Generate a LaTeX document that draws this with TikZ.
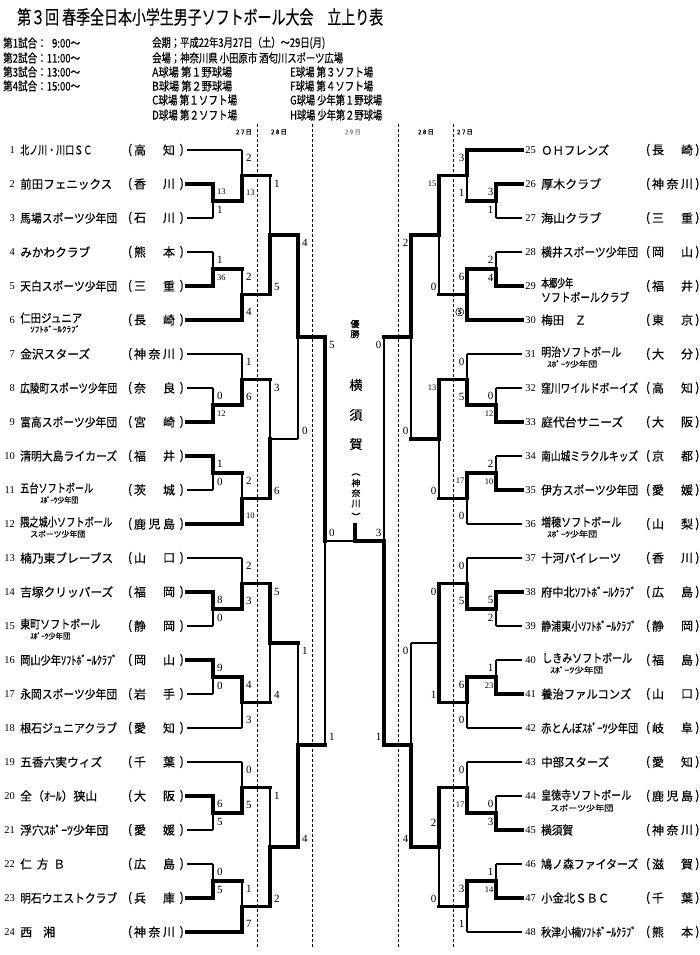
\documentclass[tikz,border=0pt]{standalone}
\usepackage{fontspec}
\usepackage{graphicx}
\setmainfont{Liberation Serif}
\newfontfamily\jp{Noto Sans CJK JP}[FakeBold=0.4]
\usetikzlibrary{calc}

\newcommand\nmw[2]{\resizebox{#1pt}{\height}{#2}}
\newcommand\sm[1]{{\fontsize{8.5}{8.5}\selectfont #1}}
\newcommand\circfive{{\jp\fontsize{9}{9}\selectfont ⑤}}

\tikzset{
 W/.style={line width=3.7pt,line cap=rect},
 T/.style={line width=1.1pt},
 scl/.style={anchor=west,inner sep=0pt,xshift=4pt,font=\fontsize{11}{11}\selectfont},
 scr/.style={anchor=east,inner sep=0pt,xshift=-2.5pt,font=\fontsize{11}{11}\selectfont},
 numL/.style={anchor=east,inner sep=0pt,font=\fontsize{10.5}{10.5}\selectfont},
 nm/.style={anchor=west,inner sep=0pt,font=\jp\fontsize{12}{12}\selectfont},
 nmtwo/.style={anchor=west,inner sep=0pt,font=\jp\fontsize{8}{8}\selectfont},
 pf/.style={inner sep=0pt,font=\jp\fontsize{12}{12}\selectfont},
 hd/.style={anchor=west,inner sep=0pt,font=\jp\fontsize{12}{12}\selectfont},
 dl/.style={line width=0.8pt,dash pattern=on 3pt off 2pt},
 dt/.style={inner sep=0pt,font=\jp\fontsize{6.5}{6.5}\selectfont},
 ctr/.style={inner sep=0pt,font=\jp\fontsize{13}{13}\selectfont},
 ctrs/.style={inner sep=0pt,font=\jp\fontsize{9}{9}\selectfont},
}

% edge: [label distance] child parent hstyle vstyle label
\newcommand\EL[6][8]{%
  \draw[#5] (#2 -| #3) -- (#3);
  \draw[#4] (#2) -- (#2 -| #3);
  \node[scl,name=s#2] at ($(#2 -| #3)!#1pt!(#3)$) {#6};}
\newcommand\ER[6][8]{%
  \draw[#5] (#2 -| #3) -- (#3);
  \draw[#4] (#2) -- (#2 -| #3);
  \node[scr,name=s#2] at ($(#2 -| #3)!#1pt!(#3)$) {#6};}

% team rows
\newcommand\TL[4]{\node[numL] (n#1) at (15,#2) {#1}; \node[nm] (m#1) at (20,#2) {\nmw{#3}{#4}};}
\newcommand\TR[4]{\node[numL] (n#1) at (536,#2) {#1}; \node[nm] (m#1) at (541,#2) {\nmw{#3}{#4}};}
% prefectures: id x0 y chars
\newcommand\Pii[5]{%
 \node[pf] (po#1) at ({#2+130},#3) {(};
 \node[pf] (pa#1) at ({#2+140},#3) {#4};
 \node[pf] (pb#1) at ({#2+169},#3) {#5};
 \node[pf,anchor=east] (pc#1) at ({min(#2+184,699.6)},#3) {)};}
\newcommand\Piii[6]{%
 \node[pf] (po#1) at ({#2+130},#3) {(};
 \node[pf] (pa#1) at ({#2+140},#3) {#4};
 \node[pf] (pb#1) at ({#2+154.5},#3) {#5};
 \node[pf] (pd#1) at ({#2+169},#3) {#6};
 \node[pf,anchor=east] (pc#1) at ({min(#2+184,699.6)},#3) {)};}

\begin{document}
\begin{tikzpicture}[x=1pt,y=-1pt]
\useasboundingbox (0,0) rectangle (700,955);
\fill[white] (0,0) rectangle (700,955);

% ---------- header ----------
\node[anchor=west,inner sep=0pt,font=\jp\fontsize{19}{19}\selectfont] (title) at (17,17) {\nmw{366}{第３回 春季全日本小学生男子ソフトボール大会　立上り表}};
\node[hd] (g1) at (3,43) {\nmw{77}{第1試合：\hphantom{1}9:00～}};
\node[hd] (g2) at (3,58) {\nmw{77}{第2試合：11:00～}};
\node[hd] (g3) at (3,72) {\nmw{77}{第3試合：13:00～}};
\node[hd] (g4) at (3,86) {\nmw{77}{第4試合：15:00～}};
\node[hd] (k1) at (152,43) {\nmw{173}{会期；平成22年3月27日（土）～29日(月)}};
\node[hd] (k2) at (152,58) {\nmw{191}{会場；神奈川県 小田原市 酒匂川スポーツ広場}};
\node[hd] (fa) at (152,72) {\nmw{80}{A球場 第１野球場}};
\node[hd] (fb) at (152,86) {\nmw{80}{B球場 第２野球場}};
\node[hd] (fc) at (152,100) {\nmw{85}{C球場 第１ソフト場}};
\node[hd] (fd) at (152,115) {\nmw{85}{D球場 第２ソフト場}};
\node[hd] (fe) at (290,72) {\nmw{83}{E球場 第３ソフト場}};
\node[hd] (ff) at (290,86) {\nmw{83}{F球場 第４ソフト場}};
\node[hd] (fg) at (290,100) {\nmw{92}{G球場 少年第１野球場}};
\node[hd] (fh) at (290,115) {\nmw{92}{H球場 少年第２野球場}};

% date columns
\foreach \x in {257,312,398,453} \draw[dl] (\x,124) -- (\x,948);
\node[dt] (d1) at (244,132) {2\,7\,日};
\node[dt] (d2) at (279,132) {2\,8\,日};
\node[dt,text=black!45] (d3) at (353,132) {2\,9\,日};
\node[dt] (d4) at (426,132) {2\,8\,日};
\node[dt] (d5) at (465,132) {2\,7\,日};

% ---------- coordinates ----------
\foreach \i in {1,...,24} \coordinate (t\i) at (187,{150+34*(\i-1)});
\foreach \i in {25,...,48} \coordinate (t\i) at (522,{150+34*(\i-25)});

\coordinate (La1) at (213,201);   \coordinate (La2) at (242,175.5);
\coordinate (La3) at (213,269);   \coordinate (La4) at (242,294.5);
\coordinate (La5) at (270,235);
\coordinate (Lb1) at (213,405);   \coordinate (Lb2) at (242,379.5);
\coordinate (Lb3) at (213,473);   \coordinate (Lb4) at (242,498.5);
\coordinate (Lb5) at (270,439);
\coordinate (Lc1) at (213,609);   \coordinate (Lc2) at (242,583.5);
\coordinate (Lc3) at (213,677);   \coordinate (Lc4) at (242,702.5);
\coordinate (Lc5) at (270,643);
\coordinate (Ld1) at (213,813);   \coordinate (Ld2) at (242,787.5);
\coordinate (Ld3) at (213,881);   \coordinate (Ld4) at (242,906.5);
\coordinate (Ld5) at (270,847);
\coordinate (L4top) at (298,337); \coordinate (L4bot) at (298,745);
\coordinate (SL) at (325,541);

\coordinate (Ra1) at (496,201);   \coordinate (Ra2) at (467,175.5);
\coordinate (Ra3) at (496,269);   \coordinate (Ra4) at (467,294.5);
\coordinate (Ra5) at (439,235);
\coordinate (Rb1) at (496,405);   \coordinate (Rb2) at (467,379.5);
\coordinate (Rb3) at (496,473);   \coordinate (Rb4) at (467,498.5);
\coordinate (Rb5) at (439,439);
\coordinate (Rc1) at (496,609);   \coordinate (Rc2) at (467,583.5);
\coordinate (Rc3) at (496,677);   \coordinate (Rc4) at (467,702.5);
\coordinate (Rc5) at (439,643);
\coordinate (Rd1) at (496,813);   \coordinate (Rd2) at (467,787.5);
\coordinate (Rd3) at (496,881);   \coordinate (Rd4) at (467,906.5);
\coordinate (Rd5) at (439,847);
\coordinate (R4top) at (411,337); \coordinate (R4bot) at (411,745);
\coordinate (SR) at (384,541);
\coordinate (F) at (355,541);     \coordinate (Ftop) at (355,525);

% ---------- left bracket ----------
\EL{t2}{La1}{W}{W}{\sm{13}}
\EL{t3}{La1}{T}{T}{1}
\EL{t1}{La2}{T}{T}{2}
\EL{La1}{La2}{W}{W}{\sm{13}}
\EL{t4}{La3}{T}{T}{1}
\EL{t5}{La3}{W}{W}{\sm{36}}
\EL{La3}{La4}{W}{T}{2}
\EL{t6}{La4}{W}{W}{4}
\EL{La2}{La5}{W}{T}{1}
\EL{La4}{La5}{W}{W}{5}

\EL{t8}{Lb1}{T}{T}{0}
\EL{t9}{Lb1}{W}{W}{\sm{12}}
\EL{t7}{Lb2}{T}{T}{1}
\EL{Lb1}{Lb2}{W}{W}{6}
\EL{t10}{Lb3}{W}{W}{1}
\EL{t11}{Lb3}{T}{T}{0}
\EL{Lb3}{Lb4}{W}{T}{2}
\EL{t12}{Lb4}{W}{W}{\sm{10}}
\EL{Lb2}{Lb5}{W}{T}{3}
\EL{Lb4}{Lb5}{W}{W}{6}

\EL{t14}{Lc1}{W}{W}{8}
\EL{t15}{Lc1}{T}{T}{0}
\EL{t13}{Lc2}{T}{T}{2}
\EL{Lc1}{Lc2}{W}{W}{3}
\EL{t16}{Lc3}{W}{W}{9}
\EL{t17}{Lc3}{T}{T}{0}
\EL{Lc3}{Lc4}{W}{W}{4}
\EL{t18}{Lc4}{T}{T}{3}
\EL{Lc2}{Lc5}{W}{W}{5}
\EL{Lc4}{Lc5}{W}{T}{4}

\EL{t20}{Ld1}{W}{W}{6}
\EL{t21}{Ld1}{T}{T}{5}
\EL{t19}{Ld2}{T}{T}{0}
\EL{Ld1}{Ld2}{W}{W}{5}
\EL{t22}{Ld3}{T}{T}{0}
\EL{t23}{Ld3}{W}{W}{5}
\EL{Ld3}{Ld4}{W}{T}{1}
\EL{t24}{Ld4}{W}{W}{7}
\EL{Ld2}{Ld5}{W}{T}{1}
\EL{Ld4}{Ld5}{W}{W}{2}

\EL{La5}{L4top}{W}{W}{4}
\EL{Lb5}{L4top}{T}{T}{0}
\EL{Lc5}{L4bot}{W}{T}{1}
\EL{Ld5}{L4bot}{W}{W}{4}
\EL{L4top}{SL}{W}{W}{5}
\EL{L4bot}{SL}{W}{T}{1}

% ---------- right bracket ----------
\ER{t26}{Ra1}{W}{W}{3}
\ER{t27}{Ra1}{T}{T}{1}
\ER{t25}{Ra2}{W}{W}{3}
\ER{Ra1}{Ra2}{W}{T}{1}
\ER{t28}{Ra3}{T}{T}{2}
\ER{t29}{Ra3}{W}{W}{4}
\ER{Ra3}{Ra4}{W}{W}{6}
\ER{t30}{Ra4}{W}{W}{\circfive}
\ER{Ra2}{Ra5}{W}{W}{\sm{15}}
\ER{Ra4}{Ra5}{W}{T}{0}

\ER{t32}{Rb1}{T}{T}{0}
\ER{t33}{Rb1}{W}{W}{\sm{12}}
\ER{t31}{Rb2}{T}{T}{0}
\ER{Rb1}{Rb2}{W}{W}{5}
\ER{t34}{Rb3}{T}{T}{2}
\ER{t35}{Rb3}{W}{W}{\sm{10}}
\ER{Rb3}{Rb4}{W}{W}{\sm{17}}
\ER{t36}{Rb4}{T}{T}{0}
\ER{Rb2}{Rb5}{W}{W}{\sm{13}}
\ER{Rb4}{Rb5}{W}{T}{0}

\ER{t38}{Rc1}{W}{W}{5}
\ER{t39}{Rc1}{T}{T}{2}
\ER{t37}{Rc2}{T}{T}{0}
\ER{Rc1}{Rc2}{W}{W}{5}
\ER{t40}{Rc3}{T}{T}{1}
\ER{t41}{Rc3}{W}{W}{\sm{23}}
\ER{Rc3}{Rc4}{W}{W}{6}
\ER{t42}{Rc4}{T}{T}{0}
\ER{Rc2}{Rc5}{W}{W}{0}
\ER{Rc4}{Rc5}{W}{W}{1}

\ER{t44}{Rd1}{T}{T}{0}
\ER{t45}{Rd1}{W}{W}{3}
\ER{t43}{Rd2}{T}{T}{0}
\ER{Rd1}{Rd2}{W}{W}{\sm{17}}
\ER{t46}{Rd3}{T}{T}{1}
\ER{t47}{Rd3}{W}{W}{\sm{14}}
\ER{Rd3}{Rd4}{W}{W}{3}
\ER{t48}{Rd4}{T}{T}{1}
\ER[35]{Rd2}{Rd5}{W}{W}{2}
\ER{Rd4}{Rd5}{W}{T}{0}

\ER{Ra5}{R4top}{W}{W}{2}
\ER{Rb5}{R4top}{W}{T}{0}
\ER{Rc5}{R4bot}{T}{T}{0}
\ER{Rd5}{R4bot}{W}{W}{4}
\ER{R4top}{SR}{W}{T}{0}
\ER{R4bot}{SR}{W}{W}{1}

% ---------- final ----------
\draw[T] (SL) -- (F);
\draw[W] (SR) -- (F) -- (Ftop);
\node[scl] (fsL) at (325,533) {0};
\node[scr] (fsR) at (384,533) {3};

% champion
\node[ctrs] (c1) at (355,324) {優};
\node[ctrs] (c2) at (355,334) {勝};
\node[ctr] (c3) at (356,385) {横};
\node[ctr] (c4) at (356,415) {須};
\node[ctr] (c5) at (356,444) {賀};
\node[ctrs] (c6) at (356,474.5) {︵};
\node[ctrs] (c7) at (356,483) {神};
\node[ctrs] (c8) at (356,493) {奈};
\node[ctrs] (c9) at (356,503.5) {川};
\node[ctrs] (c10) at (356,516.5) {︶};

% ---------- left teams ----------
\TL{1}{150}{72}{北ノ川・川口ＳＣ}
\TL{2}{184}{92}{前田フェニックス}
\TL{3}{218}{97}{馬場スポーツ少年団}
\TL{4}{252}{70}{みかわクラブ}
\TL{5}{286}{97}{天白スポーツ少年団}
\node[numL] (n6) at (15,320) {6};
\node[nm] (m6) at (20,318) {\nmw{62}{仁田ジュニア}};
\node[nmtwo] (m6b) at (30,329) {\nmw{50}{ｿﾌﾄﾎﾞｰﾙｸﾗﾌﾞ}};
\TL{7}{354}{70}{金沢スターズ}
\TL{8}{388}{97}{広陵町スポーツ少年団}
\TL{9}{422}{97}{富高スポーツ少年団}
\TL{10}{456}{97}{清明大島ライカーズ}
\node[numL] (n11) at (15,490) {11};
\node[nm] (m11) at (20,488) {\nmw{73}{五台ソフトボール}};
\node[nmtwo] (m11b) at (40,500) {\nmw{38}{ｽﾎﾟｰﾂ少年団}};
\node[numL] (n12) at (15,524) {12};
\node[nm] (m12) at (20,522) {\nmw{92}{隈之城小ソフトボール}};
\node[nmtwo] (m12b) at (30,534) {\nmw{55}{スポーツ少年団}};
\TL{13}{558}{93}{楠乃東ブレーブス}
\TL{14}{592}{93}{吉塚クリッパーズ}
\node[numL] (n15) at (15,626) {15};
\node[nm] (m15) at (20,624) {\nmw{80}{東町ソフトボール}};
\node[nmtwo] (m15b) at (30,636) {\nmw{40}{ｽﾎﾟｰﾂ少年団}};
\TL{16}{660}{97}{岡山少年ｿﾌﾄﾎﾞｰﾙｸﾗﾌﾞ}
\TL{17}{694}{97}{永岡スポーツ少年団}
\TL{18}{728}{97}{根石ジュニアクラブ}
\TL{19}{762}{82}{五香六実ウィズ}
\TL{20}{796}{77}{全（ｵｰﾙ）狭山}
\TL{21}{830}{88}{浮穴ｽﾎﾟｰﾂ少年団}
\TL{22}{864}{45}{仁\hspace{5pt}方\hspace{5pt}Ｂ}
\TL{23}{898}{97}{明石ウエストクラブ}
\TL{24}{932}{35}{西\hspace{11pt}湘}

\Pii{1}{0}{150}{高}{知}
\Pii{2}{0}{184}{香}{川}
\Pii{3}{0}{218}{石}{川}
\Pii{4}{0}{252}{熊}{本}
\Pii{5}{0}{286}{三}{重}
\Pii{6}{0}{320}{長}{崎}
\Piii{7}{0}{354}{神}{奈}{川}
\Pii{8}{0}{388}{奈}{良}
\Pii{9}{0}{422}{宮}{崎}
\Pii{10}{0}{456}{福}{井}
\Pii{11}{0}{490}{茨}{城}
\Piii{12}{0}{524}{鹿}{児}{島}
\Pii{13}{0}{558}{山}{口}
\Pii{14}{0}{592}{福}{岡}
\Pii{15}{0}{626}{静}{岡}
\Pii{16}{0}{660}{岡}{山}
\Pii{17}{0}{694}{岩}{手}
\Pii{18}{0}{728}{愛}{知}
\Pii{19}{0}{762}{千}{葉}
\Pii{20}{0}{796}{大}{阪}
\Pii{21}{0}{830}{愛}{媛}
\Pii{22}{0}{864}{広}{島}
\Pii{23}{0}{898}{兵}{庫}
\Piii{24}{0}{932}{神}{奈}{川}

% ---------- right teams ----------
\TR{25}{150}{68}{ＯＨフレンズ}
\TR{26}{184}{60}{厚木クラブ}
\TR{27}{218}{60}{海山クラブ}
\TR{28}{252}{97}{横井スポーツ少年団}
\node[numL] (n29) at (536,286) {29};
\node[nm] (m29) at (541,283) {\nmw{32}{本郷少年}};
\node[nm] (m29b) at (541,297) {\nmw{88}{ソフトボールクラブ}};
\TR{30}{320}{45}{梅田\hspace{11pt}Ｚ}
\node[numL] (n31) at (536,354) {31};
\node[nm] (m31) at (541,352) {\nmw{80}{明治ソフトボール}};
\node[nmtwo] (m31b) at (547,364) {\nmw{50}{ｽﾎﾟｰﾂ少年団}};
\TR{32}{388}{97}{窪川ワイルドボーイズ}
\TR{33}{422}{82}{庭代台サニーズ}
\TR{34}{456}{97}{南山城ミラクルキッズ}
\TR{35}{490}{97}{伊方スポーツ少年団}
\node[numL] (n36) at (536,524) {36};
\node[nm] (m36) at (541,522) {\nmw{80}{増穂ソフトボール}};
\node[nmtwo] (m36b) at (547,534) {\nmw{50}{ｽﾎﾟｰﾂ少年団}};
\TR{37}{558}{80}{十河パイレーツ}
\TR{38}{592}{95}{府中北ｿﾌﾄﾎﾞｰﾙｸﾗﾌﾞ}
\TR{39}{626}{95}{静浦東小ｿﾌﾄﾎﾞｰﾙｸﾗﾌﾞ}
\node[numL] (n40) at (536,660) {40};
\node[nm] (m40) at (542,658) {\nmw{90}{しきみソフトボール}};
\node[nmtwo] (m40b) at (550,670) {\nmw{53}{ｽﾎﾟｰﾂ少年団}};
\TR{41}{694}{90}{養治ファルコンズ}
\TR{42}{728}{97}{赤とんぼｽﾎﾟｰﾂ少年団}
\TR{43}{762}{68}{中部スターズ}
\node[numL] (n44) at (536,796) {44};
\node[nm] (m44) at (541,795) {\nmw{90}{皇徳寺ソフトボール}};
\node[nmtwo] (m44b) at (550,808) {\nmw{63}{スポーツ少年団}};
\TR{45}{830}{32}{横須賀}
\TR{46}{864}{97}{鳩ノ森ファイターズ}
\TR{47}{898}{68}{小金北ＳＢＣ}
\TR{48}{932}{95}{秋津小楠ｿﾌﾄﾎﾞｰﾙｸﾗﾌﾞ}

\Pii{25}{518}{150}{長}{崎}
\Piii{26}{518}{184}{神}{奈}{川}
\Pii{27}{518}{218}{三}{重}
\Pii{28}{518}{252}{岡}{山}
\Pii{29}{518}{286}{福}{井}
\Pii{30}{518}{320}{東}{京}
\Pii{31}{518}{354}{大}{分}
\Pii{32}{518}{388}{高}{知}
\Pii{33}{518}{422}{大}{阪}
\Pii{34}{518}{456}{京}{都}
\Pii{35}{518}{490}{愛}{媛}
\Pii{36}{518}{524}{山}{梨}
\Pii{37}{518}{558}{香}{川}
\Pii{38}{518}{592}{広}{島}
\Pii{39}{518}{626}{静}{岡}
\Pii{40}{518}{660}{福}{島}
\Pii{41}{518}{694}{山}{口}
\Pii{42}{518}{728}{岐}{阜}
\Pii{43}{518}{762}{愛}{知}
\Piii{44}{518}{796}{鹿}{児}{島}
\Piii{45}{518}{830}{神}{奈}{川}
\Pii{46}{518}{864}{滋}{賀}
\Pii{47}{518}{898}{千}{葉}
\Pii{48}{518}{932}{熊}{本}
\end{tikzpicture}
\end{document}
